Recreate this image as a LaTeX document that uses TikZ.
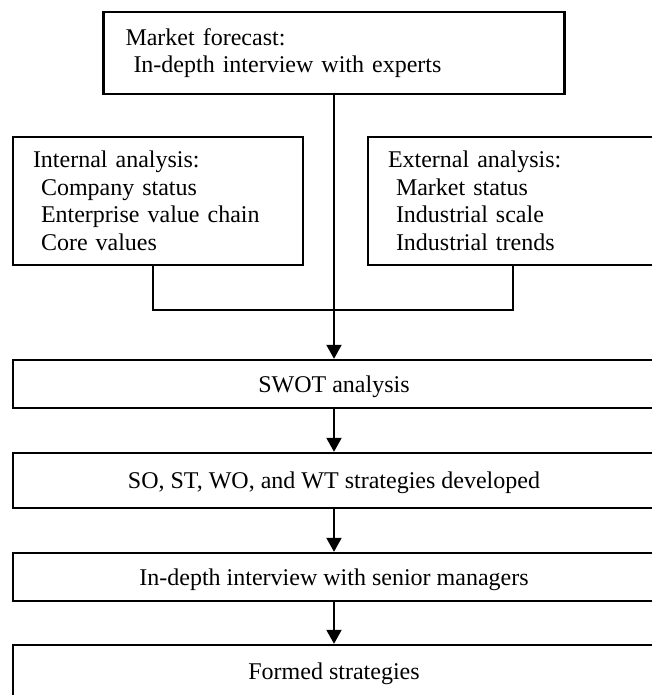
\documentclass[tikz,border=0pt]{standalone}
\usepackage{fontspec}
\setmainfont{Liberation Serif}
\usetikzlibrary{arrows.meta}
\newcommand{\subline}{\hspace*{4pt}}

\begin{document}
\begin{tikzpicture}[x=0.5pt,y=-0.5pt,
        every node/.style={font=\fontsize{12}{13.75}\selectfont},
        topbox/.style={draw,line width=1.2pt,align=left,inner xsep=11pt,text width=208.5pt,minimum height=41pt},
        sidebox/.style={draw,line width=0.9pt,align=left,inner xsep=10pt,text width=125pt,minimum height=64pt},
        stagebox/.style={draw,line width=1.2pt,minimum width=321pt,text depth=0pt},
        flow/.style={line width=1pt,-{Triangle[length=7pt,width=7.5pt]}},
        link/.style={line width=0.8pt}]
        \useasboundingbox (0,0) rectangle (652,695);
        \clip (0,0) rectangle (652,695);
        \node[topbox] (forecast) at (334,53) {Market forecast:\\ \subline In-depth interview with experts};
        \node[sidebox] (internal) at (158,201) {Internal analysis:\\ \subline Company status\\ \subline Enterprise value chain\\ \subline Core values};
        \node[sidebox] (external) at (513,201) {External analysis:\\ \subline Market status\\ \subline Industrial scale\\ \subline Industrial trends};
        \node[stagebox,minimum height=24pt] (swot) at (334,384) {SWOT analysis};
        \node[stagebox,minimum height=27.5pt] (strategies) at (334,480.5) {SO, ST, WO, and WT strategies developed};
        \node[stagebox,minimum height=24pt] (interview) at (334,577) {In-depth interview with senior managers};
        \node[stagebox,minimum height=26pt] (formed) at (334,671) {Formed strategies};
        \draw[link] ([xshift=-2.5pt]internal.south) -- ++(0,44) -| (external.south);
        \draw[flow] (forecast.south) -- (swot.north);
        \draw[flow] (swot.south) -- (strategies.north);
        \draw[flow] (strategies.south) -- (interview.north);
        \draw[flow] (interview.south) -- (formed.north);
    \end{tikzpicture}
\end{document}
